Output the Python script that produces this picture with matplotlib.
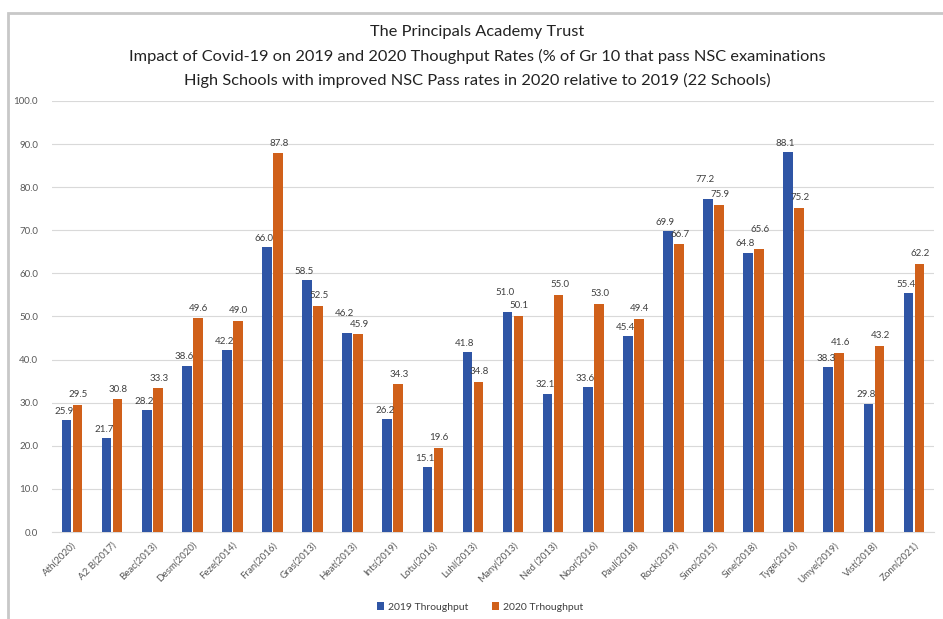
import numpy as np
import matplotlib
matplotlib.use("Agg")
import matplotlib.pyplot as plt
from matplotlib.patches import Rectangle

schools = ["Ath(2020)", "A2 B(2017)", "Beac(2013)", "Desm(2020)", "Feze(2014)", "Fran(2016)",
           "Gras(2013)", "Heat(2013)", "Ints(2019)", "Lotu(2016)", "Luhl(2013)", "Many(2013)",
           "Ned (2013)", "Noor(2016)", "Paul(2018)", "Rock(2019)", "Simo(2015)", "Sine(2018)",
           "Tyge(2016)", "Umye(2019)", "Vist(2018)", "Zonn(2021)"]
tp2019 = [25.9, 21.7, 28.2, 38.6, 42.2, 66.0, 58.5, 46.2, 26.2, 15.1, 41.8,
          51.0, 32.1, 33.6, 45.4, 69.9, 77.2, 64.8, 88.1, 38.3, 29.8, 55.4]
tp2020 = [29.5, 30.8, 33.3, 49.6, 49.0, 87.8, 52.5, 45.9, 34.3, 19.6, 34.8,
          50.1, 55.0, 53.0, 49.4, 66.7, 75.9, 65.6, 75.2, 41.6, 43.2, 62.2]
yticks = np.arange(0, 101, 10)

blue = "#2F55A5"
orange = "#D0601A"
txt = "#404040"

plt.rcParams["font.family"] = ["Lato", "DejaVu Sans"]

fig = plt.figure(figsize=(9.43, 6.19), dpi=100)
# chart frame
fig.patches.append(Rectangle((8 / 943, -0.1), 1.2, 1 - 13 / 619 + 0.1, transform=fig.transFigure,
                             fill=False, edgecolor="#C8C8C8", lw=2))
ax = fig.add_axes([52 / 943, 0.1405, 882 / 943, 0.6965])

x = np.arange(len(schools))
w = 0.24
b1 = ax.bar(x - 0.137, tp2019, w, color=blue, label="2019 Throughput", zorder=3)
b2 = ax.bar(x + 0.137, tp2020, w, color=orange, label="2020 Trhoughput", zorder=3)

# labels sit just above the bars; when the two values are close the higher one is lifted
for xi, a, b in zip(x, tp2019, tp2020):
    close = abs(a - b) < 2
    da = 11 if (close and a >= b) else 3
    db = 11 if (close and b > a) else 4
    ax.annotate(f"{a:.1f}", (xi - 0.2, a), xytext=(0, da), textcoords="offset points",
                ha="center", va="bottom", fontsize=7, color=txt)
    ax.annotate(f"{b:.1f}", (xi + 0.16, b), xytext=(0, db), textcoords="offset points",
                ha="center", va="bottom", fontsize=7, color=txt)

ax.set_xlim(-0.5, len(schools) - 0.5)
ax.set_ylim(0, 100)
ax.set_yticks(yticks)
ax.set_yticklabels([f"{t:.1f}" for t in yticks], fontsize=7, color="#595959")
ax.set_xticks(x)
ax.set_xticklabels(schools, rotation=45, ha="right", rotation_mode="anchor", fontsize=7, color="#595959")
ax.tick_params(axis="y", length=0, pad=10)
ax.tick_params(axis="x", length=0, pad=6)
ax.grid(axis="y", color="#D9D9D9", lw=0.8, zorder=0)
for s in ["top", "right", "left"]:
    ax.spines[s].set_visible(False)
ax.spines["bottom"].set_color("#D9D9D9")

title_lines = ["The Principals Academy Trust",
               "Impact of Covid-19 on 2019 and 2020 Thoughput Rates (% of Gr 10 that pass NSC examinations",
               "High Schools with improved NSC Pass rates in 2020 relative to 2019 (22 Schools)"]
for i, line in enumerate(title_lines):
    fig.text(477 / 943, 1 - (32 + 24 * i) / 619, line, ha="center", va="center", fontsize=11.8, color="#222222")

fig.legend(handles=[b1, b2], loc="center", bbox_to_anchor=(480 / 943, 1 - 607 / 619), ncol=2, frameon=False,
           fontsize=7.5, handlelength=0.7, handleheight=0.7, columnspacing=2.2, handletextpad=0.4,
           labelcolor="#404040")

fig.savefig("out.png", dpi=100)
